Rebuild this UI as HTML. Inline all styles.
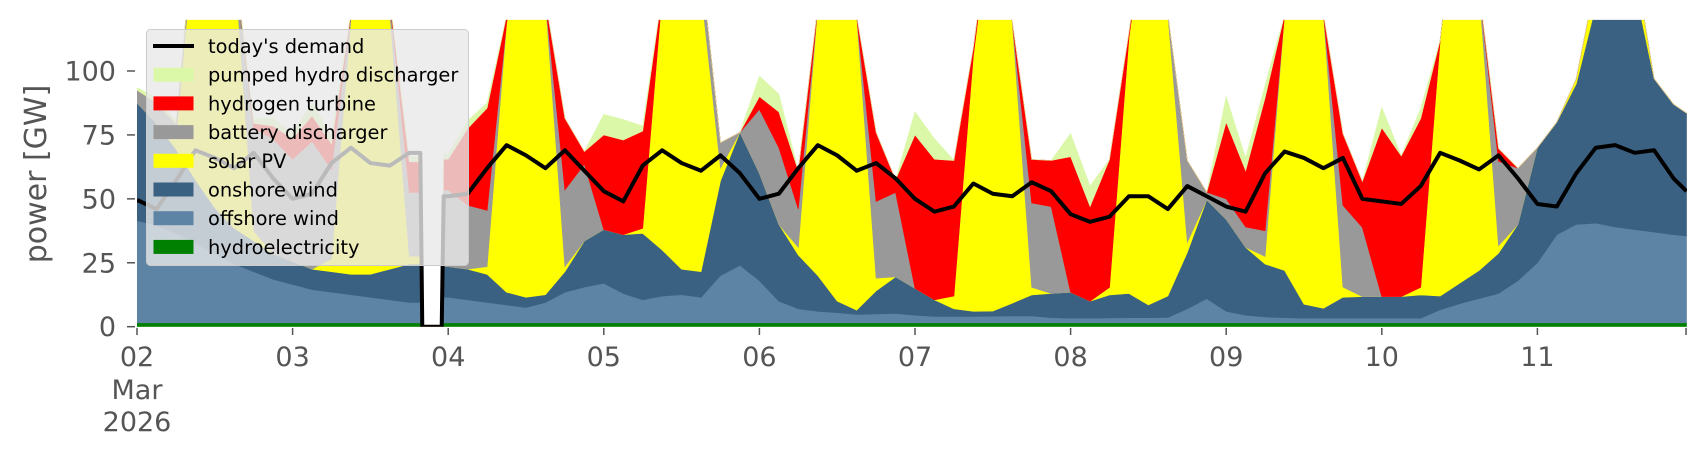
<!DOCTYPE html>
<html><head><meta charset="utf-8">
<style>
html,body{margin:0;padding:0;background:#fff;}
svg{display:block;font-family:"DejaVu Sans","Liberation Sans",sans-serif;}
</style></head>
<body>
<svg id="chart" width="1706" height="460" viewBox="0 0 1706 460" xmlns="http://www.w3.org/2000/svg">
  <defs><clipPath id="plotclip"><rect x="137" y="19.9" width="1550" height="306.8"/></clipPath></defs>
  <g id="areas" clip-path="url(#plotclip)"></g>
  <g id="lines" clip-path="url(#plotclip)"></g>
  <g id="axes"></g>
  <text x="0" y="0" transform="translate(46,174) rotate(-90)" text-anchor="middle" font-size="30" fill="#555">power [GW]</text>
  <g id="legend"></g>
</svg>
<script>
const hours=[0,3,6,9,12,15,18,21,24,27,30,33,36,39,42,43.7,44,47,47.3,48,51,54,57,60,63,66,69,72,75,78,81,84,87,90,93,96,99,102,105,108,111,114,117,120,123,126,129,132,135,138,141,144,147,150,153,156,159,162,165,168,171,174,177,180,183,186,189,192,195,198,201,204,207,210,213,216,219,222,225,228,231,234,237,239];
const hydro=[1.5,1.5,1.5,1.5,1.5,1.5,1.5,1.5, 1.5,1.5,1.5,1.5,1.5,1.5,1.5,1.5,0,0,1.5, 1.5,1.5,1.5,1.5,1.5,1.5,1.5,1.5, 1.5,1.5,1.5,1.5,1.5,1.5,1.5,1.5, 1.5,1.5,1.5,1.5,1.5,1.5,1.5,1.5, 1.5,1.5,1.5,1.5,1.5,1.5,1.5,1.5, 1.5,1.5,1.5,1.5,1.5,1.5,1.5,1.5, 1.5,1.5,1.5,1.5,1.5,1.5,1.5,1.5, 1.5,1.5,1.5,1.5,1.5,1.5,1.5,1.5, 1.5,1.5,1.5,1.5,1.5,1.5,1.5,1.5, 1.5];
const offshore=[40,38,35,31,27,23,20,17, 15,13,12,11,10,9,8,8,0,0,10, 10,9,8,7,6,8,12,14, 15.5,11.5,9,10.5,11,10,18.5,22.5, 16.5,8.5,5.5,4.5,4,3.3,3.5,3.7, 3,2.5,2.5,2.5,2.6,2.7,2.7,2, 1.8,1.8,1.9,2,2,2.1,5.5,9.5, 4.5,3,2.3,2,1.8,1.8,1.8,1.8, 1.8,1.8,1.8,5.1,7.5,9.5,11.5,16.5, 23.5,34.5,38.5,39,37.5,36.5,35.5,34.5, 34];
const onshore=[46,40,33,25,18,14,12,10, 9,8,8,8,9,12,15,15,0,0,12, 12,12,11,5,4,3,8,18, 21,23,26,18,10,10,37,52, 42,30,21,14,4.5,1.7,9,14.3, 10.5,6.5,3,2,2,5,8.2,9.5, 10.2,6.7,9,9.5,5,8.4,22,38.6, 36,26.5,20.7,18.5,5.5,3.9,8.2,8.5, 8.5,8.5,9.1,5.4,8,11,15.7,22, 45,44,55,85,100,95,60,51, 48];
const solar=[0,0,4,100,150,105,4,0, 0,0,5,100,150,100,3,3,0,0,0, 0,0,3,105,160,115,2,0, 0,0,2,100,160,110,5,0, 0,0,3,105,160,115,5,0, 0,0,5,100,160,110,3,0, 0,0,3,100,160,110,4,0, 0,0,3,100,160,115,4,0, 0,0,3,100,160,110,3,0, 0,0,2,10,20,10,0,0, 0];
const battery=[5,8,6,2,0,0,40,45, 40,50,35,2,0,5,25,25,0,0,30, 30,25,22,0,0,0,30,30, 0,0,0,0,0,10,10,0, 25,30,15,0,0,0,30,33, 0,0,0,0,0,0,33,34, 0,0,0,0,0,0,32,3, 8,8,10,0,0,0,32,27, 0,0,0,0,0,0,33,22, 0,0,0,0,0,0,0,0, 0];
const hydrogen=[0,0,0,0,0,0,2,5, 8,10,10,0,0,0,12,12,0,0,12, 12,30,40,3,0,0,28,5, 37,37,38,0,0,0,0,0, 5,14,15,0,0,0,27,5, 60,55,53,3,0,0,17,18, 53,37,50,2,0,0,0,0, 30,22,52,0,0,0,28,18, 66,55,66,0,0,0,5,0, 0,0,0,0,0,0,0,0, 0];
const pumped=[1,2,1,0,0,0,2,3, 2,5,3,0,0,0,2,2,0,0,2, 2,3,2,0,0,0,0,0, 8,8,2,0,0,0,0,0, 8,7,0,0,0,0,0,0, 9,8,0,0,0,0,0,0, 9,8,0,0,0,0,0,0, 10,5,5,0,0,0,0,0, 8,0,4,0,0,0,0,0, 0,0,0,0,0,0,0,0, 0];
const demand=[49.6,46,57,69,66,62,68,58, 50,52,64,70,64,63,68,68,0,0,51, 51,52,62,71,67,62,69,61, 53,49,63,69,64,61,67,60, 50,52,62,71,67,61,64,58, 50,45,47,56,52,51,56.5,53, 44,41,43,51,51,46,55,51, 47,45,60,68.5,66,62,66,50, 49,48,55,68,65,61.5,67,58, 48,47,60,70,71,68,69,58, 53];
const yTicks=[0,25,50,75,100];
const xTickLabels=["02","03","04","05","06","07","08","09","10","11"];

const NS="http://www.w3.org/2000/svg";
const X0=137, DAY=155.6, Y0=326.7, PXGW=2.557;
function xs(h){return X0+h/24*DAY;}
function ys(v){return Y0-v*PXGW;}
function mk(tag,attrs,parent){const e=document.createElementNS(NS,tag);for(const k in attrs)e.setAttribute(k,attrs[k]);parent.appendChild(e);return e;}

const series=[
 {name:"hydroelectricity",vals:hydro,color:"#008000",id:"hydro-area"},
 {name:"offshore wind",vals:offshore,color:"#5d83a5",id:"offshore-wind-area"},
 {name:"onshore wind",vals:onshore,color:"#3b6182",id:"onshore-wind-area"},
 {name:"solar PV",vals:solar,color:"#ffff00",id:"solar-pv-area"},
 {name:"battery discharger",vals:battery,color:"#999999",id:"battery-discharger-area"},
 {name:"hydrogen turbine",vals:hydrogen,color:"#ff0000",id:"hydrogen-turbine-area"},
 {name:"pumped hydro discharger",vals:pumped,color:"#dbf7a8",id:"pumped-hydro-area"}
];
const areas=document.getElementById('areas');
let base=hours.map(()=>0);
series.forEach(s=>{
  const top=base.map((b,i)=>b+s.vals[i]);
  let d="M"+hours.map((h,i)=>xs(h).toFixed(2)+","+ys(top[i]).toFixed(2)).join(" L");
  for(let i=hours.length-1;i>=0;i--) d+=" L"+xs(hours[i]).toFixed(2)+","+ys(base[i]).toFixed(2);
  d+=" Z";
  const p=mk('path',{d:d,fill:s.color,stroke:s.color,'stroke-width':0.6},areas);
  
  
  base=top;
});
const lines=document.getElementById('lines');
const dl=mk('polyline',{points:hours.map((h,i)=>xs(h).toFixed(2)+","+ys(demand[i]).toFixed(2)).join(" "),fill:"none",stroke:"#000","stroke-width":4,"stroke-linejoin":"round"},lines);



const axes=document.getElementById('axes');
yTicks.forEach(v=>{
  const t=mk('line',{x1:127,x2:135,y1:ys(v),y2:ys(v),stroke:"#555","stroke-width":1.5},axes);
  
  
  const l=mk('text',{x:116,y:ys(v)+9.5,'text-anchor':'end','font-size':27,fill:'#555'},axes);
  l.textContent=v;
  
  
});
xTickLabels.forEach((lab,i)=>{
  const x=xs(i*24);
  const t=mk('line',{x1:x,x2:x,y1:328,y2:335,stroke:"#555","stroke-width":1.5},axes);
  
  
  const l=mk('text',{x:x,y:366,'text-anchor':'middle','font-size':27,fill:'#555'},axes);
  l.textContent=lab;
  
  
});
const te=mk('line',{x1:1686,x2:1686,y1:328,y2:335,stroke:"#555","stroke-width":1.5},axes);


[["Mar",399],["2026",431]].forEach(([s,y])=>{
  const l=mk('text',{x:xs(0),y:y,'text-anchor':'middle','font-size':27,fill:'#555'},axes);
  l.textContent=s;
  
  
});

const lg=document.getElementById('legend');
const box=mk('rect',{x:146.5,y:29.5,width:322,height:236,rx:4,fill:"rgba(232,232,232,0.8)",stroke:"#cccccc","stroke-width":1},lg);


const entries=[["today's demand","line","#000"],["pumped hydro discharger","patch","#dbf7a8"],["hydrogen turbine","patch","#ff0000"],["battery discharger","patch","#999999"],["solar PV","patch","#ffff00"],["onshore wind","patch","#3b6182"],["offshore wind","patch","#5d83a5"],["hydroelectricity","patch","#008000"]];
entries.forEach((e,i)=>{
  const cy=46+i*28.7;
  const g=mk('g',{},lg);
  
  
  if(e[1]==="line") mk('line',{x1:153,x2:194,y1:cy,y2:cy,stroke:e[2],"stroke-width":4},g);
  else mk('rect',{x:153.5,y:cy-7,width:40,height:14,fill:e[2]},g);
  const t=mk('text',{x:208,y:cy+7,'font-size':19.4,fill:'#000'},g);
  t.textContent=e[0];
});
</script>
</body></html>
